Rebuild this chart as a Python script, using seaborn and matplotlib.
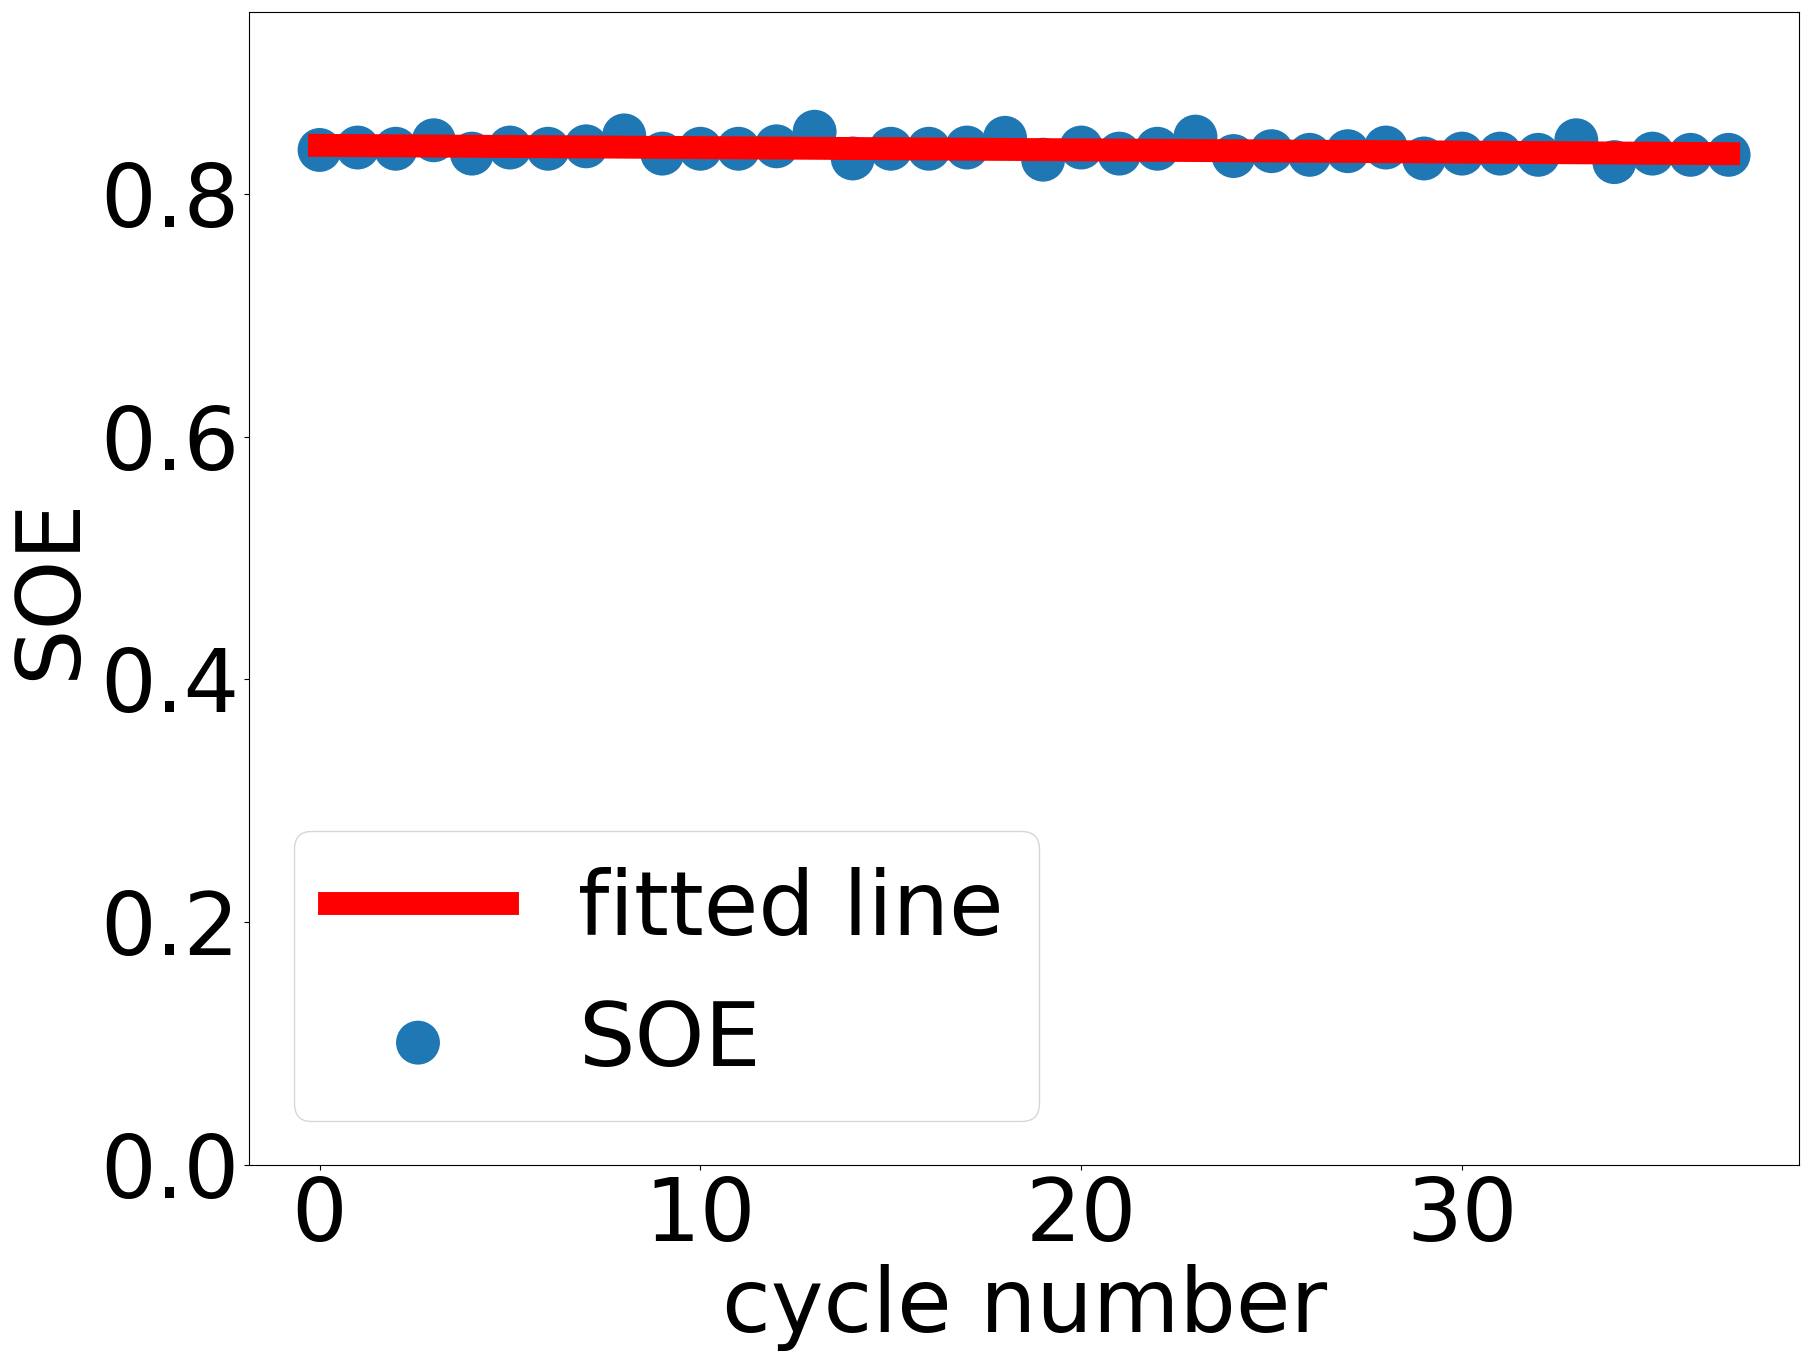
import numpy as np
import pandas as pd
import matplotlib
matplotlib.use("Agg")
import matplotlib.pyplot as plt
import seaborn as sns

# SOE per cycle
cycle = list(range(38))
soe = [0.836, 0.838, 0.837, 0.844, 0.833, 0.838, 0.837, 0.839, 0.848, 0.833,
       0.837, 0.837, 0.839, 0.851, 0.829, 0.837, 0.837, 0.838, 0.846, 0.828,
       0.838, 0.833, 0.837, 0.847, 0.831, 0.835, 0.832, 0.835, 0.838, 0.829,
       0.833, 0.833, 0.832, 0.844, 0.826, 0.833, 0.832, 0.832]

df = pd.DataFrame({"cycle": cycle, "SOE": soe})

# linear fit of SOE against cycle number
slope, intercept = np.polyfit(df["cycle"], df["SOE"], 1)
df["fit"] = slope * df["cycle"] + intercept

fs = 64
fig, ax = plt.subplots(figsize=(18.09, 13.6), dpi=100)
fig.subplots_adjust(left=0.1377, right=0.9945, top=0.9915, bottom=0.1434)

ax.plot(df["cycle"], df["fit"], color="red", linewidth=16.5, label="fitted line")
sns.scatterplot(data=df, x="cycle", y="SOE", s=1000, color="#1f77b4",
                edgecolor="none", label="SOE", ax=ax)

ax.set_ylim(0, 0.95)
ax.set_yticks([0.0, 0.2, 0.4, 0.6, 0.8])
ax.set_xticks([0, 10, 20, 30])
ax.tick_params(labelsize=fs - 1)
ax.set_xlabel("cycle number", fontsize=fs)
ax.set_ylabel("SOE", fontsize=fs)

ax.legend(loc="lower left", fontsize=fs)

plt.savefig("out.png", dpi=100)
